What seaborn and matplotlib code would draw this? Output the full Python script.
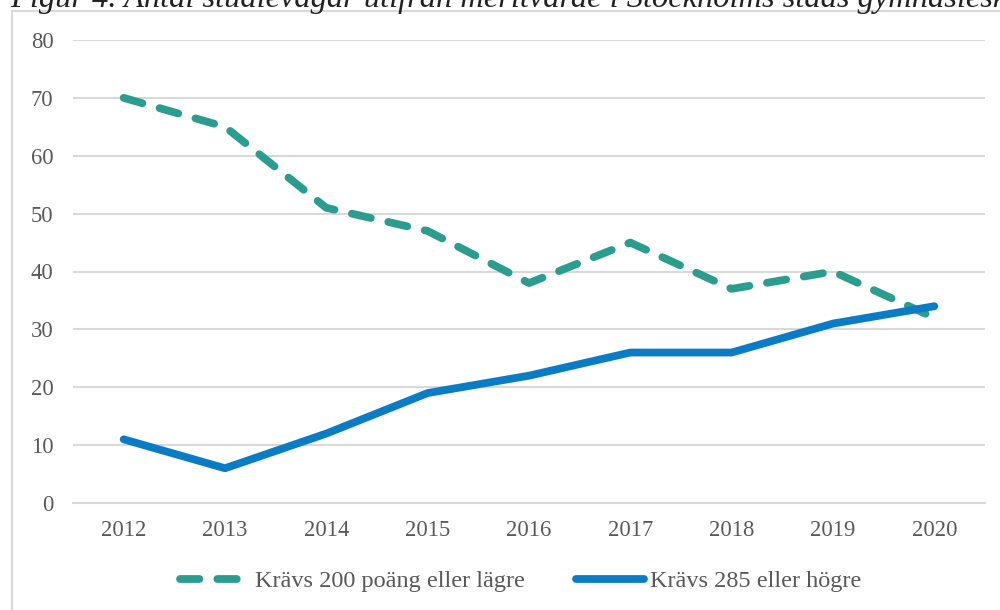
import matplotlib
matplotlib.use("Agg")
import matplotlib.pyplot as plt
from matplotlib.patches import Rectangle
from matplotlib.lines import Line2D
import seaborn as sns
import pandas as pd

years = [2012, 2013, 2014, 2015, 2016, 2017, 2018, 2019, 2020]
low_req = [70, 65, 51, 47, 38, 45, 37, 40, 32]
high_req = [11, 6, 12, 19, 22, 26, 26, 31, 34]
series_names = ["Krävs 200 poäng eller lägre", "Krävs 285 eller högre"]
title = "Figur 4. Antal studievägar utifrån meritvärde i Stockholms stads gymnasieskolor"
yticks = [0, 10, 20, 30, 40, 50, 60, 70, 80]

teal = "#2a9d8f"
blue = "#0a7cc6"
grid_c = "#d9d9d9"
text_c = "#595959"
LW = 5.6
DASH = (0, (2.5, 2.3))

sns.set_theme(style="white")
plt.rcParams["font.family"] = ["Liberation Serif", "DejaVu Serif"]

df = pd.DataFrame({"year": years, "low": low_req, "high": high_req})

fig = plt.figure(figsize=(10, 6.1), dpi=100)
ax = fig.add_axes([0.073, 1 - 503 / 610, 0.985 - 0.073, (503 - 40) / 610])

sns.lineplot(data=df, x="year", y="low", ax=ax, color=teal, linewidth=LW,
             linestyle=DASH, dash_capstyle="round", solid_capstyle="round")
sns.lineplot(data=df, x="year", y="high", ax=ax, color=blue, linewidth=LW,
             solid_capstyle="round")

ax.set_xlim(years[0] - 0.5, years[-1] + 0.5)
ax.set_ylim(0, 80)
ax.set_yticks(yticks)
ax.set_xticks(years)
ax.set_xticklabels([str(y) for y in years])
ax.set_xlabel("")
ax.set_ylabel("")
ax.grid(axis="y", color=grid_c, linewidth=1.5)
ax.grid(axis="x", visible=False)
ax.set_axisbelow(True)
for s in ["top", "right", "left"]:
    ax.spines[s].set_visible(False)
ax.spines["bottom"].set_color(grid_c)
ax.spines["bottom"].set_linewidth(1.5)
ax.tick_params(axis="both", length=0, labelsize=16.3, labelcolor=text_c)
ax.tick_params(axis="y", pad=14)
ax.tick_params(axis="x", pad=12)

leg_y = 1 - 581 / 610
h1 = Line2D([0], [0], color=teal, linewidth=LW, linestyle=DASH, dash_capstyle="round")
h2 = Line2D([0], [0], color=blue, linewidth=LW, solid_capstyle="round")
leg1 = fig.legend([h1], [series_names[0]], loc="center left", bbox_to_anchor=(180 / 1000, leg_y),
                  frameon=False, fontsize=17.5, handlelength=2.35, handletextpad=0.75,
                  borderpad=0, borderaxespad=0)
leg2 = fig.legend([h2], [series_names[1]], loc="center left", bbox_to_anchor=(576 / 1000, leg_y),
                  frameon=False, fontsize=17.5, handlelength=2.8, handletextpad=0.25,
                  borderpad=0, borderaxespad=0)
for leg in (leg1, leg2):
    for t in leg.get_texts():
        t.set_color(text_c)

fig.patches.append(Rectangle((12 / 1000, -0.1), 1.2, (610 - 11) / 610 + 0.1, transform=fig.transFigure,
                             fill=False, edgecolor=grid_c, linewidth=1.5))
fig.text(10 / 1000, 1 - 7 / 610, title, ha="left", va="baseline", fontsize=23.4,
         style="italic", color="#222222")

fig.savefig("out.png", dpi=100)
